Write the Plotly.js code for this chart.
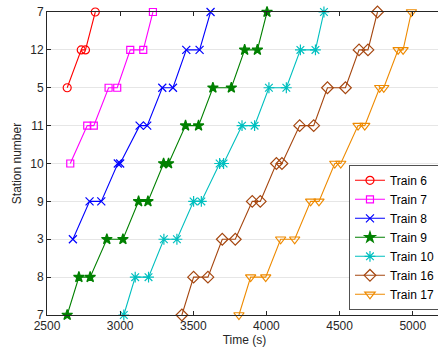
<!DOCTYPE html>
<html>
<head>
<meta charset="utf-8">
<script src="https://cdn.plot.ly/plotly-3.0.1.min.js"></script>
<style>
html,body{margin:0;padding:0;overflow:hidden;background:#fff;}
#chart{width:444px;height:351px;}
</style>
</head>
<body>
<div id="chart"></div>
<script>
// Station order along the line (bottom to top)
const stationLabels = ['7','8','3','9','10','11','5','12','7'];
const stationPos = [0,1,2,3,4,5,6,7,8];

const fullSeq = [0,1,1,2,2,3,3,4,4,5,5,6,6,7,7,8];

const train6Stations = [6,7,7,8];
const train6Times = [2638,2734,2763,2830];

const train7Stations = [4,5,5,6,6,7,7,8];
const train7Times = [2659,2775,2820,2921,2980,3069,3158,3224];

const train8Stations = [2,3,3,4,4,5,5,6,6,7,7,8];
const train8Times = [2677,2791,2871,2984,3000,3133,3185,3288,3361,3452,3543,3618];

const train9Stations = fullSeq;
const train9Times = [2638,2718,2795,2909,3019,3126,3190,3297,3331,3447,3536,3634,3760,3851,3938,4004];

const train10Stations = fullSeq;
const train10Times = [3025,3103,3194,3299,3388,3502,3555,3680,3707,3833,3919,4017,4136,4232,4335,4393];

const train16Stations = fullSeq;
const train16Times = [3422,3502,3600,3698,3787,3903,3958,4068,4106,4227,4323,4417,4540,4633,4694,4759];

const train17Stations = fullSeq;
const train17Times = [3812,3892,3995,4097,4193,4302,4359,4467,4508,4626,4672,4774,4802,4900,4934,4991];

const trainNames = ['Train 6','Train 7','Train 8','Train 9','Train 10','Train 16','Train 17'];
const xTickVals = [2500,3000,3500,4000,4500,5000];

const series = [
  {x:train6Times, y:train6Stations, color:'#ff0000', symbol:'circle-open', size:8},
  {x:train7Times, y:train7Stations, color:'#ff00ff', symbol:'square-open', size:7},
  {x:train8Times, y:train8Stations, color:'#0000ff', symbol:'x-thin-open', size:8},
  {x:train9Times, y:train9Stations, color:'#008000', symbol:'star', size:8},
  {x:train10Times, y:train10Stations, color:'#00bfbf', symbol:'asterisk-open', size:9},
  {x:train16Times, y:train16Stations, color:'#a5460f', symbol:'diamond-open', size:9},
  {x:train17Times, y:train17Stations, color:'#ee8a00', symbol:'triangle-down-open', size:9}
];

const traces = series.map((s,i)=>({
  type:'scatter', mode:'lines+markers', name:trainNames[i],
  x:s.x, y:s.y, cliponaxis:false,
  line:{color:s.color, width:1.1},
  marker:{symbol:s.symbol, size:s.size, color:s.color, line:{color:s.color, width:1.2}}
}));

const layout = {
  width:444, height:351,
  margin:{l:47, r:2, t:12, b:36},
  paper_bgcolor:'#fff', plot_bgcolor:'#fff',
  font:{family:'Liberation Sans, Arial, sans-serif', size:12, color:'#262626'},
  showlegend:true,
  xaxis:{
    range:[2500,5200], tickvals:xTickVals, ticktext:xTickVals.map(String),
    ticks:'inside', ticklen:4, tickcolor:'#262626', showgrid:false, zeroline:false,
    showline:true, linecolor:'#262626', linewidth:1, mirror:'ticks',
    title:{text:'Time (s)', standoff:2, font:{size:12, color:'#262626'}},
    tickfont:{size:12, color:'#262626'}
  },
  yaxis:{
    range:[0,8], tickvals:stationPos, ticktext:stationLabels,
    ticks:'inside', ticklen:4, tickcolor:'#262626',
    showgrid:true, gridcolor:'#e6e6e6', gridwidth:1, zeroline:false,
    showline:true, linecolor:'#262626', linewidth:1, mirror:'ticks',
    title:{text:'Station number', standoff:6, font:{size:12, color:'#262626'}},
    tickfont:{size:12, color:'#262626'}
  },
  legend:{
    x:0.765, y:0.495, xanchor:'left', yanchor:'top',
    bgcolor:'#fff', bordercolor:'#262626', borderwidth:0.8,
    font:{size:12, color:'#000'}, itemwidth:30, tracegroupgap:0
  }
};

Plotly.newPlot('chart', traces, layout, {displayModeBar:false, staticPlot:true});
</script>
</body>
</html>
